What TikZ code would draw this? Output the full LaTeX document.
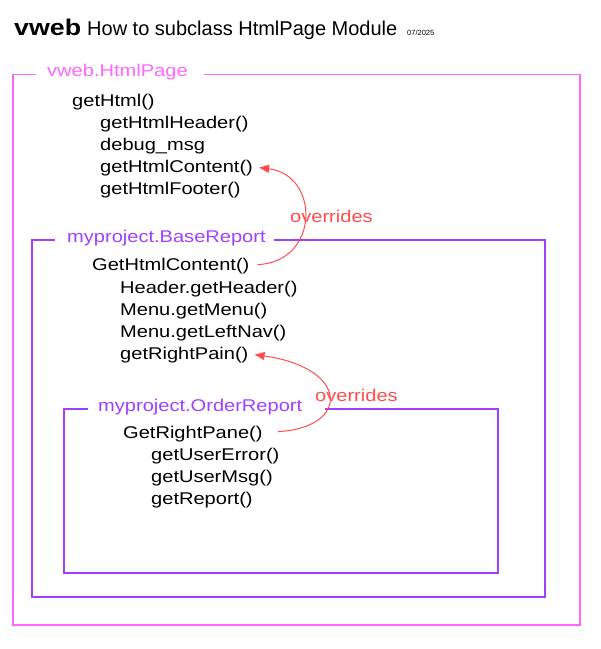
\documentclass[tikz,border=0pt]{standalone}
\usepackage{fontspec}
\setmainfont{Liberation Sans}
\newfontfamily\widefont[FakeStretch=1.18]{Liberation Sans}
\usetikzlibrary{arrows.meta}
\definecolor{mag}{HTML}{FF66FF}
\definecolor{purp}{HTML}{A040FF}
\definecolor{ovred}{HTML}{FF4D4D}
\tikzset{
  txt/.style={anchor=base west,inner sep=0pt,font=\widefont\fontsize{17}{20}\selectfont},
  boxline/.style={line width=1.5pt},
  ovarrow/.style={ovred,line width=1pt,-{Triangle[length=10pt,width=8pt]}},
}
\begin{document}
\begin{tikzpicture}[x=1pt,y=-1pt]
\useasboundingbox (0,0) rectangle (601,649);
% title
\node[anchor=base west,inner sep=0pt,font=\widefont\fontsize{22.7}{26}\selectfont\bfseries] (tv) at (14,35) {vweb};
\node[anchor=base west,inner sep=0pt,font=\fontsize{20}{24}\selectfont] (tt) at (87,35) {How to subclass HtmlPage Module};
\node[anchor=base west,inner sep=0pt,font=\fontsize{7.5}{9}\selectfont] (td) at (407,35) {07/2025};
% outer box
\draw[boxline,mag] (36,74.5) -- (13,74.5) -- (13,625) -- (580,625) -- (580,74.5) -- (204,74.5);
\node[txt,mag] (l1) at (47,76) {vweb.HtmlPage};
\node[txt] (a1) at (72,106) {getHtml()};
\node[txt] (a2) at (100,128) {getHtmlHeader()};
\node[txt] (a3) at (100,150) {debug\_msg};
\node[txt] (a4) at (100,172) {getHtmlContent()};
\node[txt] (a5) at (100,194) {getHtmlFooter()};
% box 2
\draw[boxline,purp] (55,240) -- (32,240) -- (32,597) -- (545,597) -- (545,240) -- (274,240);
\node[txt,purp] (l2) at (67,242) {myproject.BaseReport};
\node[txt] (b1) at (92,270) {GetHtmlContent()};
\node[txt] (b2) at (120,293) {Header.getHeader()};
\node[txt] (b3) at (120,315) {Menu.getMenu()};
\node[txt] (b4) at (120,337) {Menu.getLeftNav()};
\node[txt] (b5) at (120,359) {getRightPain()};
% box 3
\draw[boxline,purp] (88,409) -- (64,409) -- (64,573) -- (498,573) -- (498,409) -- (325,409);
\node[txt,purp] (l3) at (98,411) {myproject.OrderReport};
\node[txt] (c1) at (123,438) {GetRightPane()};
\node[txt] (c2) at (151,460) {getUserError()};
\node[txt] (c3) at (151,482) {getUserMsg()};
\node[txt] (c4) at (151,504) {getReport()};
% overrides arrows
\draw[ovarrow] ([xshift=8pt,yshift=1pt]b1.east) .. controls (320,262) and (320,175) .. ([xshift=6pt]a4.east);
\node[txt,ovred] (o1) at (290,222) {overrides};
\draw[ovarrow] ([xshift=15pt,yshift=2pt]c1.east) .. controls (350,428) and (350,368) .. ([xshift=6pt]b5.east);
\node[txt,ovred] (o2) at (315,401) {overrides};
\end{tikzpicture}
\end{document}
